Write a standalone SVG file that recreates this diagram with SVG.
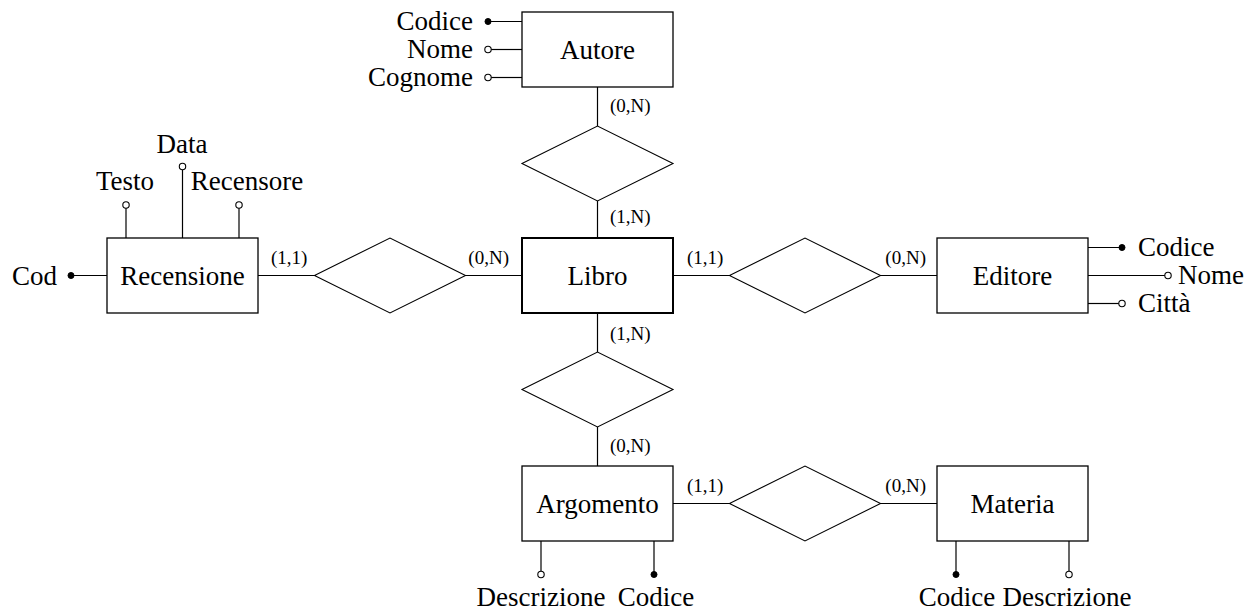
<svg xmlns="http://www.w3.org/2000/svg" width="1249" height="610" viewBox="0 0 1249 610">
<style>
.ent{fill:#fff;stroke:#000;stroke-width:1.3}
.main{fill:#fff;stroke:#000;stroke-width:2}
.rel{fill:#fff;stroke:#000;stroke-width:1.1}
.ln{stroke:#000;stroke-width:1.2;fill:none}
.t{font-family:"Liberation Serif","Times New Roman",serif;font-size:27px;fill:#000}
.c{font-family:"Liberation Serif","Times New Roman",serif;font-size:19px;fill:#000}
.mid{text-anchor:middle}
.end{text-anchor:end}
.key{fill:#000;stroke:#000;stroke-width:1}
.att{fill:#fff;stroke:#000;stroke-width:1.1}
</style>
<rect width="1249" height="610" fill="#fff"/>
<g id="connectors">
<line class="ln" x1="597.5" y1="87" x2="597.5" y2="126"/>
<line class="ln" x1="597.5" y1="201" x2="597.5" y2="238"/>
<line class="ln" x1="597.5" y1="313" x2="597.5" y2="352"/>
<line class="ln" x1="597.5" y1="427" x2="597.5" y2="466"/>
<line class="ln" x1="258" y1="275.5" x2="314.5" y2="275.5"/>
<line class="ln" x1="465.5" y1="275.5" x2="522" y2="275.5"/>
<line class="ln" x1="673" y1="275.5" x2="729.5" y2="275.5"/>
<line class="ln" x1="880.5" y1="275.5" x2="937" y2="275.5"/>
<line class="ln" x1="673" y1="503.5" x2="729.5" y2="503.5"/>
<line class="ln" x1="880.5" y1="503.5" x2="937" y2="503.5"/>
<text class="c" x="610" y="112">(0,N)</text>
<text class="c" x="610" y="223">(1,N)</text>
<text class="c" x="610" y="340">(1,N)</text>
<text class="c" x="610" y="452">(0,N)</text>
<text class="c" x="271" y="264">(1,1)</text>
<text class="c end" x="509" y="264">(0,N)</text>
<text class="c" x="687" y="264">(1,1)</text>
<text class="c end" x="926" y="264">(0,N)</text>
<text class="c" x="687" y="492">(1,1)</text>
<text class="c end" x="926" y="492">(0,N)</text>
</g>
<g id="autore">
<line class="ln" x1="522" y1="21.5" x2="488" y2="21.5"/>
<line class="ln" x1="522" y1="49.5" x2="491" y2="49.5"/>
<line class="ln" x1="522" y1="77.5" x2="491" y2="77.5"/>
<circle class="key" cx="488" cy="21.5" r="3"/>
<circle class="att" cx="488" cy="49.5" r="3.2"/>
<circle class="att" cx="488" cy="77.5" r="3.2"/>
<text class="t end" x="473" y="30">Codice</text>
<text class="t end" x="473" y="58">Nome</text>
<text class="t end" x="473" y="86">Cognome</text>
<rect class="ent" x="522" y="12" width="151" height="75"/>
<text class="t mid" x="597.5" y="59">Autore</text>
</g>
<g id="rel-autore-libro">
<polygon class="rel" points="522,163.5 597.5,126 673,163.5 597.5,201"/>
</g>
<g id="libro">
<rect class="main" x="522" y="238" width="151" height="75"/>
<text class="t mid" x="597.5" y="285">Libro</text>
</g>
<g id="recensione">
<line class="ln" x1="107" y1="275.5" x2="71" y2="275.5"/>
<circle class="key" cx="71" cy="275.5" r="3"/>
<text class="t end" x="57" y="284.5">Cod</text>
<line class="ln" x1="126" y1="238" x2="126" y2="208"/>
<circle class="att" cx="126" cy="205" r="3.2"/>
<text class="t mid" x="125" y="190">Testo</text>
<line class="ln" x1="182.5" y1="238" x2="182.5" y2="169.5"/>
<circle class="att" cx="182.5" cy="166.5" r="3.2"/>
<text class="t mid" x="182" y="153">Data</text>
<line class="ln" x1="239" y1="238" x2="239" y2="208"/>
<circle class="att" cx="239" cy="205" r="3.2"/>
<text class="t mid" x="247" y="190">Recensore</text>
<rect class="ent" x="107" y="238" width="151" height="75"/>
<text class="t mid" x="182.5" y="285">Recensione</text>
</g>
<g id="rel-recensione-libro">
<polygon class="rel" points="314.5,275.5 390,238 465.5,275.5 390,313"/>
</g>
<g id="rel-libro-editore">
<polygon class="rel" points="729.5,275.5 805,238 880.5,275.5 805,313"/>
</g>
<g id="editore">
<line class="ln" x1="1088" y1="247.5" x2="1122" y2="247.5"/>
<line class="ln" x1="1088" y1="275.5" x2="1165" y2="275.5"/>
<line class="ln" x1="1088" y1="303.5" x2="1119" y2="303.5"/>
<circle class="key" cx="1122" cy="247.5" r="3"/>
<circle class="att" cx="1168" cy="275.5" r="3.2"/>
<circle class="att" cx="1122" cy="303.5" r="3.2"/>
<text class="t" x="1138" y="256">Codice</text>
<text class="t" x="1178" y="284">Nome</text>
<text class="t" x="1138" y="312">Città</text>
<rect class="ent" x="937" y="238" width="151" height="75"/>
<text class="t mid" x="1012.5" y="285">Editore</text>
</g>
<g id="rel-libro-argomento">
<polygon class="rel" points="522,389.5 597.5,352 673,389.5 597.5,427"/>
</g>
<g id="argomento">
<line class="ln" x1="541" y1="541" x2="541" y2="571.5"/>
<line class="ln" x1="654" y1="541" x2="654" y2="574.5"/>
<circle class="att" cx="541" cy="574.5" r="3.2"/>
<circle class="key" cx="654" cy="574.5" r="3"/>
<text class="t mid" x="541" y="606">Descrizione</text>
<text class="t mid" x="656" y="606">Codice</text>
<rect class="ent" x="522" y="466" width="151" height="75"/>
<text class="t mid" x="597.5" y="513">Argomento</text>
</g>
<g id="rel-argomento-materia">
<polygon class="rel" points="729.5,503.5 805,466 880.5,503.5 805,541"/>
</g>
<g id="materia">
<line class="ln" x1="956" y1="541" x2="956" y2="574.5"/>
<line class="ln" x1="1069" y1="541" x2="1069" y2="571.5"/>
<circle class="key" cx="956" cy="574.5" r="3"/>
<circle class="att" cx="1069" cy="574.5" r="3.2"/>
<text class="t mid" x="957" y="606">Codice</text>
<text class="t mid" x="1067" y="606">Descrizione</text>
<rect class="ent" x="937" y="466" width="151" height="75"/>
<text class="t mid" x="1012.5" y="513">Materia</text>
</g>
</svg>
